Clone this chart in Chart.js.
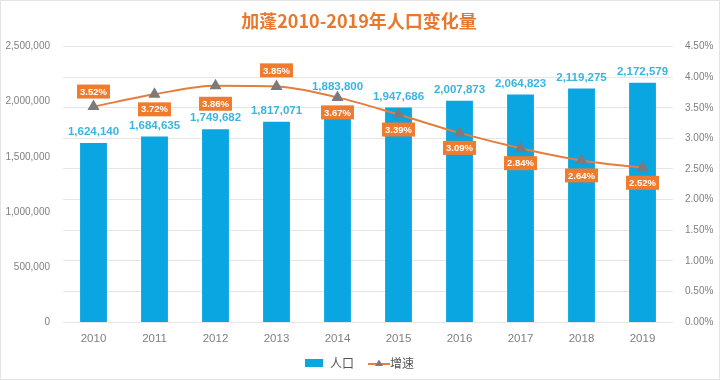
<!DOCTYPE html>
<html><head><meta charset="utf-8">
<script src="https://cdn.jsdelivr.net/npm/chart.js@4/dist/chart.umd.min.js"></script>
<style>html,body{margin:0;padding:0;background:#fff}#w{width:720px;height:380px;position:relative}</style>
</head><body><div id="w"><canvas id="c" width="720" height="380"></canvas></div>
<script>
const titleText = '加蓬2010-2019年人口变化量';
const years = ['2010','2011','2012','2013','2014','2015','2016','2017','2018','2019'];
const population = [1624140,1684635,1749682,1817071,1883800,1947686,2007873,2064823,2119275,2172579];
const growth = [3.52,3.72,3.86,3.85,3.67,3.39,3.09,2.84,2.64,2.52];
const seriesNames = ['人口','增速'];

// label placement (style only): vertical offsets in px; negative = above
const rateLabelOffset = [-15,15,18,-16,15,15,15,15,15,15];
const popLabelExtra = [0,0,0,0,17,0,0,0,0,0];

function fmt(n){return n.toLocaleString('en-US');}

function mkIcon(kind){
  const cv=document.createElement('canvas');
  if(kind==='bar'){cv.width=20;cv.height=10;const g=cv.getContext('2d');g.fillStyle='#0aa6e1';g.fillRect(1,1,18,8);}
  else{cv.width=36;cv.height=10;const g=cv.getContext('2d');g.strokeStyle='#e8803f';g.lineWidth=2;g.beginPath();g.moveTo(12,6);g.lineTo(34,6);g.stroke();
    g.fillStyle='#7b7b7b';g.beginPath();g.moveTo(23,1.5);g.lineTo(27,8);g.lineTo(19,8);g.closePath();g.fill();}
  return cv;
}

const framePlugin={
  id:'frame',
  beforeDraw(chart){
    const ctx=chart.ctx;ctx.save();ctx.strokeStyle='#e4e4e4';ctx.lineWidth=1;
    ctx.strokeRect(0.5,0.5,chart.width-1,chart.height-1);ctx.restore();
  }
};

const labelPlugin={
  id:'vlabels',
  afterDatasetsDraw(chart){
    const ctx=chart.ctx;
    const barMeta=chart.getDatasetMeta(0), lineMeta=chart.getDatasetMeta(1);
    ctx.save();
    ctx.textAlign='center';ctx.textBaseline='middle';
    ctx.font='bold 11.5px "Liberation Sans", Arial, sans-serif';
    ctx.fillStyle='#3ab5de';
    barMeta.data.forEach((b,i)=>{
      ctx.fillText(fmt(population[i]), b.x, b.y-11-popLabelExtra[i]);
    });
    ctx.font='bold 9.5px "Liberation Sans", Arial, sans-serif';
    lineMeta.data.forEach((p,i)=>{
      const t=growth[i].toFixed(2)+'%';
      const w=ctx.measureText(t).width+6, h=14;
      const cy=p.y+rateLabelOffset[i];
      ctx.fillStyle='#ef7b2f';
      ctx.fillRect(p.x-w/2, cy-h/2, w, h);
      ctx.fillStyle='#ffffff';
      ctx.fillText(t,p.x,cy+0.5);
    });
    ctx.restore();
  }
};

new Chart(document.getElementById('c'),{
  data:{
    labels:years,
    datasets:[
      {type:'bar',label:seriesNames[0],data:population,backgroundColor:'#0aa6e1',yAxisID:'y',
       categoryPercentage:1,barPercentage:0.44,order:2},
      {type:'line',label:seriesNames[1],data:growth,yAxisID:'y1',borderColor:'#e57d3c',borderWidth:2,
       cubicInterpolationMode:'monotone',pointStyle:'triangle',pointRadius:5,pointBackgroundColor:'#7b7b7b',pointBorderColor:'#7b7b7b',order:1}
    ]
  },
  options:{
    responsive:false,animation:false,
    layout:{padding:{left:4,right:6,top:0,bottom:1}},
    plugins:{
      title:{display:true,text:titleText,color:'#e8782e',font:{size:18,weight:'bold',family:'"Noto Sans CJK SC", sans-serif'},padding:{top:10,bottom:15}},
      legend:{position:'bottom',labels:{usePointStyle:true,pointStyleWidth:20,color:'#555',font:{size:12,family:'"Noto Sans CJK SC", sans-serif'},padding:10,
        generateLabels(chart){
          return chart.data.datasets.map((d,i)=>({text:d.label,pointStyle:mkIcon(i===0?'bar':'line'),datasetIndex:i,hidden:false,fontColor:'#555',lineWidth:0,strokeStyle:'transparent',fillStyle:'transparent'}));
        }}},
      tooltip:{enabled:false}
    },
    scales:{
      x:{grid:{display:false,drawTicks:false},border:{display:false},ticks:{color:'#7f7f7f',font:{size:11.5,family:'"Liberation Sans", Arial, sans-serif'},padding:10},
         afterFit(s){s.height=25;}},
      y:{position:'left',min:0,max:2500000,grid:{display:false,drawTicks:false},border:{display:false},
         ticks:{stepSize:500000,color:'#7f7f7f',padding:13,font:{size:10,family:'"Liberation Sans", Arial, sans-serif'},callback:v=>fmt(v)},
         afterFit(s){s.width=59;}},
      y1:{position:'right',min:0,max:4.5,grid:{color:'#e6e6e6',drawTicks:false},border:{display:false},
         ticks:{stepSize:0.5,color:'#7f7f7f',padding:12,font:{size:10,family:'"Liberation Sans", Arial, sans-serif'},callback:v=>v.toFixed(2)+'%'},
         afterFit(s){s.width=41;}}
    }
  },
  plugins:[framePlugin,labelPlugin]
});
</script></body></html>
